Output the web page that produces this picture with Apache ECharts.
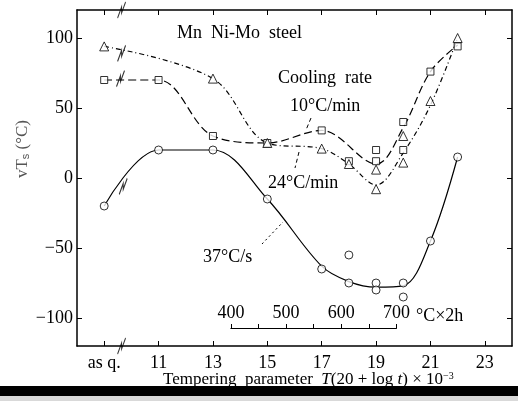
<!DOCTYPE html>
<html>
<head>
<meta charset="utf-8">
<script src="https://cdn.jsdelivr.net/npm/echarts@6/dist/echarts.min.js"></script>
<style>
  html, body { margin: 0; padding: 0; background: #fff; }
  #chart { width: 518px; height: 401px; }
</style>
</head>
<body>
<div id="chart"></div>
<script>
// axis ticks
const xTicks = [9, 11, 13, 15, 17, 19, 21, 23];
const xTickLabels = ['as q.', '11', '13', '15', '17', '19', '21', '23'];
const yTicks = [-100, -50, 0, 50, 100];

// measured points (tempering parameter, vTs)
const rate37 = [[9, -20], [11, 20], [13, 20], [15, -15], [17, -65], [18, -75], [18, -55], [19, -75], [19, -80], [20, -75], [20, -85], [21, -45], [22, 15]];
const rate10 = [[9, 70], [11, 70], [13, 30], [15, 25], [17, 34], [18, 12], [19, 20], [19, 12], [20, 40], [20, 20], [21, 76], [22, 94]];
const rate24 = [[9, 94], [13, 71], [15, 25], [17, 21], [18, 10], [19, 6], [19, -8], [20, 30], [20, 11], [21, 55], [22, 100]];

// hand drawn curves through the points
const curve37 = [[9, -20], [11, 20], [13, 20], [15, -15], [17, -63], [18, -74], [19, -78], [20, -77], [21, -45], [22, 15]];
const curve10 = [[9, 70], [11, 70], [13, 30], [15, 25], [17, 34], [19, 10], [20, 36], [21, 76], [22, 95]];
const curve24 = [[9, 94], [13, 71], [15, 25], [17, 21], [18, 10], [19, -5], [20, 18], [21, 52], [22, 100]];

// break marks on axes and curves
const breaks = [[9.64, 120], [9.64, -120], [9.64, 89], [9.6, 71], [9.7, -6]];

// tempering temperature scale (°C x 2h)
const tempTicks = [400, 500, 600, 700];
const tempRange = [400, 700];
const paramAtTemp = [13.66, 19.75];

const font = '"Liberation Serif", "DejaVu Serif", serif';
const zig = 'path://M0,16 L4,5 L4,11 L8,0';

const chart = echarts.init(document.getElementById('chart'));

function pts(name, data, symbol, size) {
    return {
        name, type: 'scatter', data, symbol, symbolSize: size, z: 5,
        itemStyle: { color: '#fff', borderColor: '#000', borderWidth: 1 }
    };
}
function curve(data, type) {
    return {
        type: 'line', data, smooth: 0.35, symbol: 'none', z: 3,
        lineStyle: { color: '#000', width: 1.2, type }
    };
}

const option = {
    animation: false,
    backgroundColor: '#fff',
    grid: [
        { left: 77, right: 6, top: 10, bottom: 55 },
        { left: 232, right: 121, top: 300, bottom: 73 }
    ],
    xAxis: [
        {
            type: 'value', min: 8, max: 24, gridIndex: 0, position: 'bottom',
            splitLine: { show: false },
            axisLine: { onZero: false, lineStyle: { color: '#000', width: 1.5 } },
            axisTick: { inside: true, length: 5, customValues: xTicks, lineStyle: { color: '#000' } },
            axisLabel: {
                customValues: xTicks, margin: 8, color: '#000', fontFamily: font, fontSize: 18,
                formatter: v => xTickLabels[xTicks.indexOf(v)]
            }
        },
        {
            type: 'value', min: 8, max: 24, gridIndex: 0, position: 'top',
            splitLine: { show: false },
            axisLine: { onZero: false, lineStyle: { color: '#000', width: 1.5 } },
            axisTick: { inside: true, length: 5, customValues: xTicks, lineStyle: { color: '#000' } },
            axisLabel: { show: false }
        },
        {
            type: 'value', min: tempRange[0], max: tempRange[1], interval: 50, gridIndex: 1,
            splitLine: { show: false },
            axisLine: { onZero: false, lineStyle: { color: '#000', width: 1.2 } },
            axisTick: { inside: true, length: 4, lineStyle: { color: '#000' } },
            axisLabel: {
                inside: true, customValues: tempTicks, margin: 6,
                color: '#000', fontFamily: font, fontSize: 18
            }
        }
    ],
    yAxis: [
        {
            type: 'value', min: -120, max: 120, gridIndex: 0,
            splitLine: { show: false },
            axisLine: { onZero: false, lineStyle: { color: '#000', width: 1.5 } },
            axisTick: { inside: true, length: 5, customValues: yTicks, lineStyle: { color: '#000' } },
            axisLabel: {
                customValues: yTicks, margin: 4, color: '#000', fontFamily: font, fontSize: 18,
                formatter: v => v < 0 ? '\u2212' + Math.abs(v) : String(v)
            }
        },
        {
            type: 'value', min: -120, max: 120, gridIndex: 0, position: 'right',
            splitLine: { show: false },
            axisLine: { onZero: false, lineStyle: { color: '#000', width: 1.5 } },
            axisTick: { inside: true, length: 5, customValues: yTicks, lineStyle: { color: '#000' } },
            axisLabel: { show: false }
        },
        { type: 'value', gridIndex: 1, show: false, min: 0, max: 1 }
    ],
    series: [
        curve(curve37, 'solid'),
        curve(curve10, [8, 4]),
        curve(curve24, [5, 3, 1, 3]),
        pts('37°C/s', rate37, 'circle', 8),
        pts('10°C/min', rate10, 'rect', 7),
        pts('24°C/min', rate24, 'triangle', 9),
        {
            type: 'scatter', data: breaks, symbol: zig, symbolSize: [8, 16], z: 6, clip: false,
            itemStyle: { color: 'transparent', borderColor: '#000', borderWidth: 1.3 }
        },
        { type: 'line', data: [], xAxisIndex: 2, yAxisIndex: 2 }
    ],
    graphic: [
        { type: 'text', left: 177, top: 24, style: { text: 'Mn  Ni-Mo  steel', font: '18px ' + font, fill: '#000' } },
        { type: 'text', left: 278, top: 69, style: { text: 'Cooling  rate', font: '18px ' + font, fill: '#000' } },
        { type: 'text', left: 290, top: 97, style: { text: '10°C/min', font: '18px ' + font, fill: '#000' } },
        { type: 'text', left: 268, top: 174, style: { text: '24°C/min', font: '18px ' + font, fill: '#000' } },
        { type: 'text', left: 203, top: 248, style: { text: '37°C/s', font: '18px ' + font, fill: '#000' } },
        { type: 'text', left: 416, top: 307, style: { text: '°C×2h', font: '18px ' + font, fill: '#000' } },
        { type: 'line', shape: { x1: 311, y1: 118, x2: 306, y2: 130 }, style: { stroke: '#000', lineWidth: 1, lineDash: [4, 3] } },
        { type: 'line', shape: { x1: 299, y1: 152, x2: 295, y2: 168 }, style: { stroke: '#000', lineWidth: 1, lineDash: [4, 3] } },
        { type: 'line', shape: { x1: 262, y1: 244, x2: 283, y2: 222 }, style: { stroke: '#000', lineWidth: 1, lineDash: [2, 3] } },
        {
            type: 'text', left: 14, top: 120, rotation: Math.PI / 2,
            style: {
                text: 'vT{s|s} (°C)', font: '17px ' + font, fill: '#555',
                rich: { s: { fontSize: 11, verticalAlign: 'bottom', fill: '#555' } }
            }
        },
        {
            type: 'text', left: 163, top: 371,
            style: {
                text: 'Tempering  parameter  {i|T}(20 + log {i|t}) × 10{sup|−3}', font: '17px ' + font, fill: '#000',
                rich: { i: { fontStyle: 'italic', fontSize: 17, fontFamily: font }, sup: { fontSize: 10, verticalAlign: 'top', fontFamily: font } }
            }
        },
        { type: 'rect', left: 0, top: 386, shape: { width: 518, height: 10 }, style: { fill: '#000' }, z: 100 },
        { type: 'rect', left: 0, top: 396, shape: { width: 518, height: 5 }, style: { fill: '#d9d9d9' }, z: 100 }
    ]
};

chart.setOption(option);

// line the temperature scale up with the tempering parameter axis
const p0 = chart.convertToPixel({ xAxisIndex: 0 }, paramAtTemp[0]);
const p1 = chart.convertToPixel({ xAxisIndex: 0 }, paramAtTemp[1]);
chart.setOption({ grid: [{}, { left: p0, right: 518 - p1 }] });
</script>
</body>
</html>
